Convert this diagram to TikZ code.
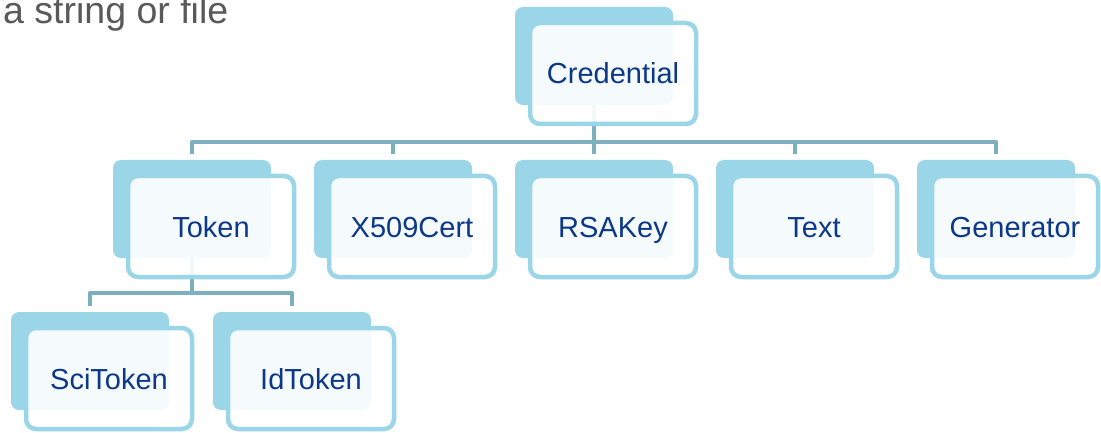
\documentclass[tikz,border=0pt]{standalone}
\usepackage{fontspec}
\setmainfont{Liberation Sans}
\pgfdeclarelayer{bg}
\pgfsetlayers{bg,main}
\definecolor{backblue}{HTML}{9BD5E8}
\definecolor{edgeblue}{HTML}{9AD5E8}
\definecolor{connblue}{HTML}{7DAFBF}
\definecolor{labelblue}{HTML}{0D3889}
\definecolor{notegray}{HTML}{595959}
\tikzset{
  backbox/.style={rectangle, rounded corners=8pt, fill=backblue, draw=none,
    minimum width=158pt, minimum height=98pt, inner sep=0pt},
  frontbox/.style={rectangle, rounded corners=10pt, draw=edgeblue, line width=4.5pt,
    fill=white, fill opacity=0.9, text opacity=1, text=labelblue,
    minimum width=166pt, minimum height=101pt, inner sep=0pt,
    text height=21pt, text depth=0pt,
    font=\fontsize{29}{34}\selectfont},
  conn/.style={draw=connblue, line width=4.5pt, line join=round},
}
% one hierarchy item: back tile at its top-left corner (#1,#2), front card offset from it
\newcommand\hitem[4]{%
  \node[backbox] (#3B) at (#1+79,#2+49) {};
  \node[frontbox] (#3) at (#1+98,#2+66.5) {#4};
}
\begin{document}
\begin{tikzpicture}[x=1pt,y=-1pt]
\useasboundingbox (0,0) rectangle (1101,433);

\node[anchor=base west, inner sep=0pt, text=notegray,
  font=\fontsize{37.5}{42}\selectfont] (note) at (3,23.5) {a string or file};

\hitem{515}{7}{cred}{Credential}
\hitem{113}{160}{tok}{Token}
\hitem{314}{160}{x509}{X509Cert}
\hitem{515}{160}{rsa}{RSAKey}
\hitem{716}{160}{txt}{Text}
\hitem{917}{160}{gen}{Generator}
\hitem{11}{312}{sci}{SciToken}
\hitem{213}{312}{idt}{IdToken}

\coordinate (bus) at (0,142);
\coordinate (subbus) at (0,293);

\begin{pgfonlayer}{bg}
  % Credential to its five children
  \draw[conn] (credB.center) -- (credB.center |- bus);
  \draw[conn] ([yshift=6pt]tokB.north) |- (credB.center |- bus) -| ([yshift=6pt]genB.north);
  \draw[conn] (bus -| x509B.north) -- ([yshift=6pt]x509B.north);
  \draw[conn] (bus -| rsaB.north) -- ([yshift=6pt]rsaB.north);
  \draw[conn] (bus -| txtB.north) -- ([yshift=6pt]txtB.north);
  % Token to its two children
  \draw[conn] (tokB.center) -- (tokB.center |- subbus);
  \draw[conn] ([yshift=6pt]sciB.north) |- (tokB.center |- subbus) -| ([yshift=6pt]idtB.north);
\end{pgfonlayer}
\end{tikzpicture}
\end{document}
